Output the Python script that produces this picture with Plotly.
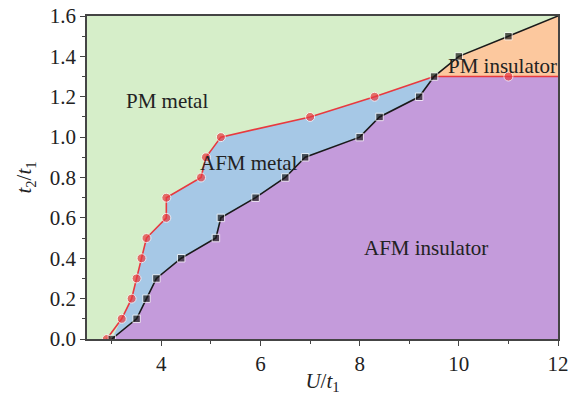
import plotly.graph_objects as go

# AFM metal / AFM insulator boundary (black squares)
afm_U = [3.0, 3.5, 3.7, 3.9, 4.4, 5.1, 5.2, 5.9, 6.5, 6.9, 8.0, 8.4, 9.2, 9.5, 10.0, 11.0]
afm_t = [0.0, 0.1, 0.2, 0.3, 0.4, 0.5, 0.6, 0.7, 0.8, 0.9, 1.0, 1.1, 1.2, 1.3, 1.4, 1.5]
# the black boundary continues to the frame edge
afm_end = (12.0, 1.6)

# PM metal / AFM metal boundary (red circles)
pm_U = [2.9, 3.2, 3.4, 3.5, 3.6, 3.7, 4.1, 4.1, 4.8, 4.9, 5.2, 7.0, 8.3]
pm_t = [0.0, 0.1, 0.2, 0.3, 0.4, 0.5, 0.6, 0.7, 0.8, 0.9, 1.0, 1.1, 1.2]

# PM insulator / AFM insulator boundary (flat, red)
ins_U = [9.5, 11.0, 12.0]
ins_t = [1.3, 1.3, 1.3]

x_range = [2.5, 12.0]
y_range = [0.0, 1.6]

C_GREEN = "#d6eec9"
C_BLUE = "#a6c8e6"
C_PURPLE = "#c49bdb"
C_ORANGE = "#fcc89e"
C_RED = "#e8393f"
C_BLACK = "#1a1a1a"
FONT = "Liberation Serif"
TXT = "#222222"

fig = go.Figure()

# AFM insulator region: below the black line up to the flat boundary
k = afm_t.index(ins_t[0])
purple_x = afm_U[:k + 1] + ins_U[1:] + [x_range[1], afm_U[0]]
purple_y = afm_t[:k + 1] + ins_t[1:] + [y_range[0], y_range[0]]
fig.add_trace(go.Scatter(x=purple_x, y=purple_y, fill="toself", fillcolor=C_PURPLE,
                         mode="none", hoverinfo="skip", showlegend=False))

# AFM metal region: between red and black lines
blue_x = [pm_U[0], afm_U[0]] + pm_U[1:] + [afm_U[k]] + afm_U[:k + 1][::-1]
blue_y = [pm_t[0], afm_t[0]] + pm_t[1:] + [afm_t[k]] + afm_t[:k + 1][::-1]
fig.add_trace(go.Scatter(x=blue_x, y=blue_y, fill="toself",
                         fillcolor=C_BLUE, mode="none", hoverinfo="skip", showlegend=False))

# PM insulator region: above the flat boundary, below the black line
orange_x = afm_U[k:] + [afm_end[0], ins_U[-1]]
orange_y = afm_t[k:] + [afm_end[1], ins_t[-1]]
fig.add_trace(go.Scatter(x=orange_x, y=orange_y, fill="toself", fillcolor=C_ORANGE,
                         mode="none", hoverinfo="skip", showlegend=False))

# red boundary lines
fig.add_trace(go.Scatter(x=pm_U + [afm_U[k]], y=pm_t + [afm_t[k]], mode="lines+markers",
                         line=dict(color=C_RED, width=1.6),
                         marker=dict(symbol="circle", size=[9] * len(pm_U) + [0], color=C_RED),
                         showlegend=False))
fig.add_trace(go.Scatter(x=ins_U, y=ins_t, mode="lines+markers",
                         line=dict(color=C_RED, width=1.6),
                         marker=dict(symbol="circle", size=[0, 9, 0], color=C_RED),
                         showlegend=False))

# black boundary line
fig.add_trace(go.Scatter(x=afm_U + [afm_end[0]], y=afm_t + [afm_end[1]], mode="lines+markers",
                         line=dict(color=C_BLACK, width=1.6),
                         marker=dict(symbol="square", size=[7.5] * len(afm_U) + [0], color=C_BLACK),
                         showlegend=False))

labels = [
    (4.11, 1.18, "PM metal"),
    (5.77, 0.87, "AFM metal"),
    (10.88, 1.35, "PM insulator"),
    (9.34, 0.45, "AFM insulator"),
]
for lx, ly, txt in labels:
    fig.add_annotation(x=lx, y=ly, text=txt, showarrow=False,
                       font=dict(family=FONT, size=21, color=TXT))

axis_common = dict(
    showgrid=False, zeroline=False, showline=True, linecolor="#444444", linewidth=1.5,
    mirror=True, ticks="outside", ticklen=5, tickwidth=1.2, tickcolor="#444444",
    tickfont=dict(family=FONT, size=21, color=TXT), automargin=False,
)

fig.update_xaxes(range=x_range, tickvals=[4, 6, 8, 10, 12],
                 minor=dict(tickvals=[3, 5, 7, 9, 11], ticks="outside", ticklen=3,
                            tickcolor="#444444", tickwidth=1),
                 title=dict(text="<i>U</i>/<i>t</i><sub>1</sub>", standoff=2,
                            font=dict(family=FONT, size=21, color=TXT)),
                 **axis_common)
fig.update_yaxes(range=y_range, tickvals=[0, 0.2, 0.4, 0.6, 0.8, 1.0, 1.2, 1.4, 1.6],
                 tickformat=".1f",
                 minor=dict(tickvals=[0.1, 0.3, 0.5, 0.7, 0.9, 1.1, 1.3, 1.5], ticks="outside",
                            ticklen=3, tickcolor="#444444", tickwidth=1),
                 title=dict(text="<i>t</i><sub>2</sub>/<i>t</i><sub>1</sub>", standoff=12,
                            font=dict(family=FONT, size=21, color=TXT)),
                 **axis_common)

fig.update_layout(
    width=574, height=395,
    margin=dict(l=87, r=16, t=16, b=56),
    plot_bgcolor=C_GREEN, paper_bgcolor="white",
)

fig.write_html("out.html")
